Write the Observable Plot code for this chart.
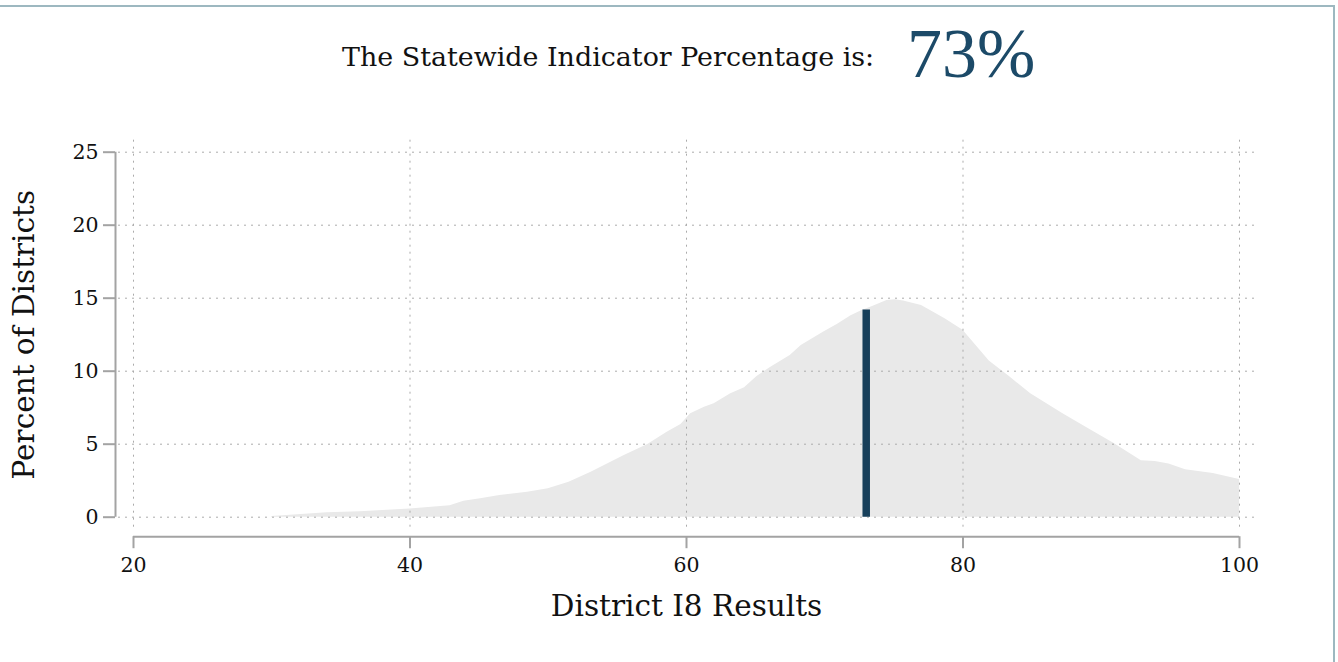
<!DOCTYPE html>
<html>
<head>
<meta charset="utf-8">
<script src="https://cdn.jsdelivr.net/npm/d3@7"></script>
<script src="https://cdn.jsdelivr.net/npm/@observablehq/plot@0.6"></script>
<style>
  html, body { margin: 0; padding: 0; background: #fff; }
  #page { position: relative; width: 1338px; height: 662px; overflow: hidden; background: #fff; }
  #frame { position: absolute; left: -10px; top: 5px; width: 1345px; height: 700px; border: 2px solid #9db8c0; box-sizing: border-box; }
  #lead { position: absolute; left: 342px; top: 42px; font-family: "DejaVu Serif", serif; font-size: 26.9px; line-height: 29px; color: #111; white-space: nowrap; }
  #value { position: absolute; left: 907px; top: 19px; font-family: "Liberation Serif", serif; font-size: 70px; line-height: 69px; color: #1c4a68; white-space: nowrap; }
  #chart { position: absolute; left: 0; top: 100px; }
</style>
</head>
<body>
<div id="page">
  <div id="frame"></div>
  <div id="lead">The Statewide Indicator Percentage is:</div>
  <div id="value"></div>
  <div id="chart"></div>
</div>
<script>
// ---- data ----
const statewideValue = 73;
const statewideHeight = 14.2;
const resultX = [30, 34, 36.4, 40, 42.9, 43.9, 45.1, 46.5, 48.5, 50, 51.5, 53.1, 55.5, 57.2, 58.6, 59.6, 60.3, 61.3, 62, 63.2, 64.2, 65.1, 66.1, 67.5, 68.3, 69.9, 70.9, 71.9, 72.7, 73.5, 74.5, 75.1, 75.7, 77, 78.7, 80, 81.9, 83.4, 84.9, 87.2, 88.9, 90.9, 92.9, 93.9, 94.9, 96.1, 98.1, 100];
const percentY = [0.05, 0.3, 0.37, 0.57, 0.78, 1.1, 1.26, 1.49, 1.71, 1.95, 2.4, 3.08, 4.23, 4.98, 5.82, 6.35, 7.08, 7.53, 7.77, 8.45, 8.86, 9.64, 10.27, 11.07, 11.76, 12.67, 13.2, 13.8, 14.16, 14.45, 14.84, 14.9, 14.8, 14.5, 13.6, 12.8, 10.7, 9.6, 8.45, 7.1, 6.16, 5.07, 3.86, 3.81, 3.65, 3.25, 3.0, 2.58];
const xTicks = [20, 40, 60, 80, 100];
const yTicks = [0, 5, 10, 15, 20, 25];
const xTitle = "District I8 Results";
const yTitle = "Percent of Districts";

document.getElementById("value").textContent = statewideValue + "%";

const density = resultX.map((x, i) => ({x, y: percentY[i]}));
const axisGrey = "#a3a3a3";
const gridGrey = "#ababab";

const chart = Plot.plot({
  width: 1338,
  height: 562,
  marginLeft: 133,
  marginRight: 99,
  marginTop: 51.7,
  marginBottom: 145.3,
  style: {fontFamily: "DejaVu Serif, serif", fontSize: "20px", color: "#111", background: "transparent"},
  x: {domain: [20, 100]},
  y: {domain: [0, 25]},
  marks: [
    Plot.areaY(density, {x: "x", y: "y", fill: "#e9e9e9"}),
    Plot.ruleY(yTicks, {stroke: gridGrey, strokeWidth: 1, strokeDasharray: "2,5", insetLeft: -15, insetRight: -15}),
    Plot.ruleX(xTicks, {stroke: gridGrey, strokeWidth: 1, strokeDasharray: "2,5", insetTop: -12, insetBottom: -12}),
    Plot.ruleX([statewideValue], {y1: 0, y2: statewideHeight, stroke: "#173f5a", strokeWidth: 7.5}),
    // axis lines (offset from the plot area)
    Plot.ruleX([20], {y1: 0, y2: 25, dx: -18, stroke: axisGrey, strokeWidth: 2}),
    Plot.ruleY([0], {x1: 20, x2: 100, dy: 19.5, stroke: axisGrey, strokeWidth: 2}),
    Plot.axisY({ticks: yTicks, tickSize: 12, tickPadding: 5, dx: -18, stroke: axisGrey, strokeWidth: 2, fill: "#111", fontSize: 20.5, label: null, tickFormat: d => String(d)}),
    Plot.axisX({ticks: xTicks, tickSize: 12, tickPadding: 9, dy: 19.5, stroke: axisGrey, strokeWidth: 2, fill: "#111", fontSize: 20.5, label: null, tickFormat: d => String(d)}),
    Plot.text([yTitle], {frameAnchor: "left", textAnchor: "middle", rotate: -90, dx: -109, fontSize: 29.5, fill: "#111"}),
    Plot.text([xTitle], {frameAnchor: "bottom", textAnchor: "middle", dy: 99, fontSize: 29.5, fill: "#111"})
  ]
});
document.getElementById("chart").appendChild(chart);
</script>
</body>
</html>
